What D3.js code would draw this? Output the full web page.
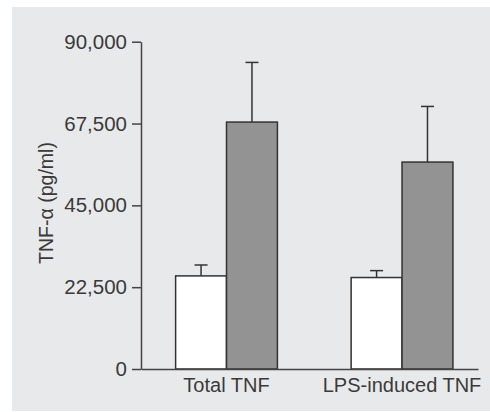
<!DOCTYPE html>
<html>
<head>
<meta charset="utf-8">
<script src="https://cdn.jsdelivr.net/npm/d3@7"></script>
<style>
  body { margin: 0; background: #fff; }
  svg { display: block; }
</style>
</head>
<body>
<script>
const categories = ["Total TNF", "LPS-induced TNF"];
const series = ["control", "treated"];
const means = [[25600, 67900], [25150, 56900]];
const errors = [[3000, 16400], [1900, 15300]];
const yTicks = [0, 22500, 45000, 67500, 90000];

let width = 490;
let height = 412;
let font = "'Liberation Sans', Arial, sans-serif";

const svg = d3.select("body").append("svg")
  .attr("width", width)
  .attr("height", height)
  .style("font-family", font);

// grey panel behind the chart
svg.append("rect")
  .attr("x", 12).attr("y", 7)
  .attr("width", width - 12).attr("height", 404)
  .attr("fill", "#e8e9eb");

let x = d3.scaleBand()
  .domain(categories)
  .range([141, 478])
  .paddingInner(0.42)
  .paddingOuter(0.17)
  .align(0.58);

let xs = d3.scaleBand()
  .domain(series)
  .range([0, x.bandwidth()]);

let y = d3.scaleLinear()
  .domain([0, 90000])
  .range([369, 41.7]);

let fills = { control: "#ffffff", treated: "#939393" };

let rows = [];
categories.forEach((c, i) => {
  series.forEach((s, j) => {
    rows.push({ cat: c, ser: s, v: means[i][j], e: errors[i][j] });
  });
});

const g = svg.append("g");

// error bars (drawn first, stem hidden behind bar top)
const err = g.selectAll("g.err")
  .data(rows)
  .join("g")
  .attr("class", "err")
  .attr("stroke", "#333")
  .attr("stroke-width", 1.5);

err.append("line")
  .attr("x1", d => x(d.cat) + xs(d.ser) + xs.bandwidth() / 2)
  .attr("x2", d => x(d.cat) + xs(d.ser) + xs.bandwidth() / 2)
  .attr("y1", d => y(d.v))
  .attr("y2", d => y(d.v + d.e));

err.append("line")
  .attr("x1", d => x(d.cat) + xs(d.ser) + xs.bandwidth() / 2 - 6.5)
  .attr("x2", d => x(d.cat) + xs(d.ser) + xs.bandwidth() / 2 + 6.5)
  .attr("y1", d => y(d.v + d.e))
  .attr("y2", d => y(d.v + d.e));

g.selectAll("rect.bar")
  .data(rows)
  .join("rect")
  .attr("class", "bar")
  .attr("x", d => x(d.cat) + xs(d.ser))
  .attr("y", d => y(d.v))
  .attr("width", xs.bandwidth())
  .attr("height", d => y(0) - y(d.v))
  .attr("fill", d => fills[d.ser])
  .attr("stroke", "#333")
  .attr("stroke-width", 1.5);

// y axis
const yAxis = svg.append("g")
  .attr("transform", "translate(141,0)")
  .call(d3.axisLeft(y).tickValues(yTicks).tickFormat(d3.format(",")).tickSize(9).tickSizeOuter(0).tickPadding(5));

yAxis.select(".domain").attr("stroke", "#444").attr("stroke-width", 1.5);
yAxis.selectAll(".tick line").attr("stroke", "#444").attr("stroke-width", 1.5);
yAxis.selectAll(".tick text")
  .attr("fill", "#3a3a3a")
  .style("font-size", "20.5px")
  .style("font-family", font);

// x axis (no ticks)
const xAxis = svg.append("g")
  .attr("transform", `translate(0,${y(0)})`)
  .call(d3.axisBottom(x).tickSize(0).tickPadding(9));

xAxis.select(".domain").attr("stroke", "#444").attr("stroke-width", 1.5);
xAxis.selectAll(".tick text")
  .attr("fill", "#3a3a3a")
  .style("font-size", "20px")
  .style("font-family", font);

// axis title
svg.append("text")
  .attr("transform", "translate(53,203) rotate(-90)")
  .attr("text-anchor", "middle")
  .attr("fill", "#3a3a3a")
  .style("font-size", "19.5px")
  .text("TNF-α (pg/ml)");
</script>
</body>
</html>
